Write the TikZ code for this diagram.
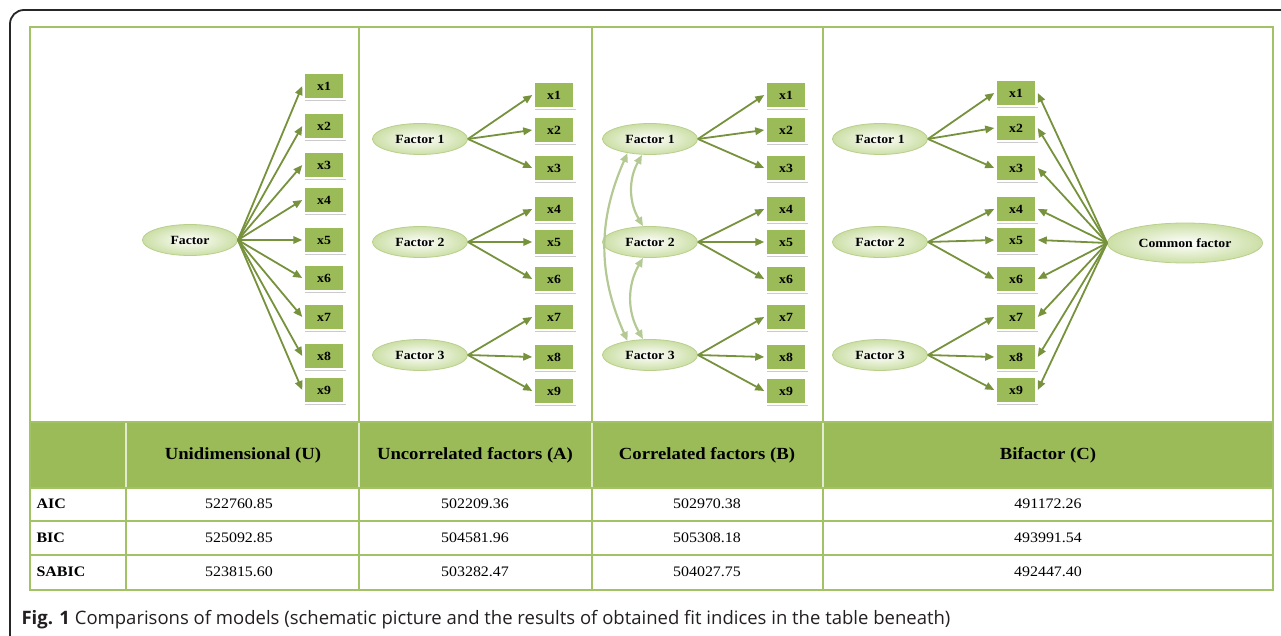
\documentclass[tikz,border=0pt]{standalone}
\usepackage{fontspec}
\setmainfont[FakeStretch=1.1]{Liberation Serif}
\newfontfamily\capfont{Open Sans}
\usetikzlibrary{arrows.meta,shapes.geometric,shadows}
\definecolor{boxgreen}{HTML}{9BBB59}
\definecolor{arrgreen}{HTML}{76923C}
\definecolor{corrgreen}{HTML}{B4C993}
\definecolor{ellgreen}{HTML}{CCDFA6}
\definecolor{ellborder}{HTML}{B9D08C}
\definecolor{linegreen}{HTML}{A3C266}
\definecolor{captext}{HTML}{231F20}
\tikzset{
 obs/.style={rectangle, fill=boxgreen, draw=white, line width=2.5pt, minimum width=41pt, minimum height=26pt, inner sep=0pt, font=\bfseries\fontsize{12.5}{12.5}\selectfont, drop shadow={shadow xshift=1.6pt, shadow yshift=-1.6pt, fill=black!45, opacity=0.45}},
 lat/.style={ellipse, minimum width=95pt, minimum height=31pt, inner sep=0pt, draw=ellborder, line width=0.8pt, inner color=white, outer color=ellgreen, font=\bfseries\fontsize{12.5}{12.5}\selectfont},
 load/.style={draw=arrgreen, line width=1.8pt, -{Triangle[length=9pt,width=7.5pt]}},
 corr/.style={draw=corrgreen, line width=2.2pt, {Triangle[length=9pt,width=7.5pt]}-{Triangle[length=9pt,width=7.5pt]}},
 gridline/.style={draw=linegreen, line width=1.6pt},
 headtxt/.style={font=\bfseries\fontsize{17}{17}\selectfont},
 celltxt/.style={font=\fontsize{14.5}{14.5}\selectfont},
 rowtxt/.style={font=\bfseries\fontsize{14.5}{14.5}\selectfont, anchor=west},
}
\begin{document}
\begin{tikzpicture}[x=1pt,y=-1pt]
\useasboundingbox (0,0) rectangle (1281,636);
\begin{scope}
\clip (0,0) rectangle (1281,636);
\draw[black!85, line width=1.8pt, rounded corners=14pt] (10,10) rectangle (1300,660);
\end{scope}
% table header fill
\fill[boxgreen] (30,422) rectangle (1273,488);
% grid
\draw[gridline] (30,27) rectangle (1273,590);
\foreach \yy in {422,488,521,555} \draw[gridline] (30,\yy) -- (1273,\yy);
\foreach \xx in {359,592,823} \draw[gridline] (\xx,27) -- (\xx,422) (\xx,488) -- (\xx,590);
\draw[gridline] (126,488) -- (126,590);
\foreach \xx in {126,359,592,823} \draw[draw=white!70!boxgreen, line width=1.2pt] (\xx,423) -- (\xx,487);
% header texts
\node[headtxt] (h1) at (243,455) {Unidimensional (U)};
\node[headtxt] (h2) at (475,455) {Uncorrelated factors (A)};
\node[headtxt] (h3) at (707,455) {Correlated factors (B)};
\node[headtxt] (h4) at (1048,455) {Bifactor (C)};
% rows
\node[rowtxt] (r1) at (33,504) {AIC};
\node[rowtxt] (r2) at (33,538) {BIC};
\node[rowtxt] (r3) at (33,572) {SABIC};
\node[celltxt] (v11) at (239,504) {522760.85};
\node[celltxt] (v12) at (475,504) {502209.36};
\node[celltxt] (v13) at (707,504) {502970.38};
\node[celltxt] (v14) at (1048,504) {491172.26};
\node[celltxt] (v21) at (239,538) {525092.85};
\node[celltxt] (v22) at (475,538) {504581.96};
\node[celltxt] (v23) at (707,538) {505308.18};
\node[celltxt] (v24) at (1048,538) {493991.54};
\node[celltxt] (v31) at (239,572) {523815.60};
\node[celltxt] (v32) at (475,572) {503282.47};
\node[celltxt] (v33) at (707,572) {504027.75};
\node[celltxt] (v34) at (1048,572) {492447.40};
% caption
\node[anchor=west, text=captext, font=\capfont\fontsize{18.5}{18.5}\selectfont] (cap) at (18,620) {\textbf{Fig. 1} Comparisons of models (schematic picture and the results of obtained fit indices in the table beneath)};

% ---- panel 1 ----
\foreach \y [count=\i] in {86,126,165,200,240,278,317,356,390} \node[obs] (a\i) at (324,\y) {x\i};
\node[lat] (fa) at (190,240) {Factor};
\foreach \i in {1,...,9} \draw[load] (fa.east) -- (a\i.west);

% ---- panel 2 ----
\foreach \y [count=\i] in {95,130,168,209,242,279,317,357,391} \node[obs] (b\i) at (554,\y) {x\i};
\node[lat] (fb1) at (420,139) {Factor 1};
\node[lat] (fb2) at (420,242) {Factor 2};
\node[lat] (fb3) at (420,355) {Factor 3};
\foreach \k/\i in {1/1,1/2,1/3,2/4,2/5,2/6,3/7,3/8,3/9} \draw[load] (fb\k.east) -- (b\i.west);

% ---- panel 3 ----
\foreach \y [count=\i] in {95,130,168,209,242,279,317,357,391} \node[obs] (c\i) at (786,\y) {x\i};
\node[lat] (fc1) at (650,139) {Factor 1};
\node[lat] (fc2) at (650,242) {Factor 2};
\node[lat] (fc3) at (650,355) {Factor 3};
\foreach \k/\i in {1/1,1/2,1/3,2/4,2/5,2/6,3/7,3/8,3/9} \draw[load] (fc\k.east) -- (c\i.west);
\draw[corr] ([xshift=-8pt]fc1.south) to[bend right=30] ([xshift=-7pt]fc2.north);
\draw[corr] ([xshift=-7pt]fc2.south) to[bend right=30] ([xshift=-7pt]fc3.north);
\draw[corr] (fc1.212) to[bend right=24] (fc3.148);

% ---- panel 4 ----
\foreach \y [count=\i] in {93,128,168,209,240,279,317,357,390} \node[obs] (d\i) at (1016,\y) {x\i};
\node[lat] (fd1) at (880,139) {Factor 1};
\node[lat] (fd2) at (880,242) {Factor 2};
\node[lat] (fd3) at (880,355) {Factor 3};
\node[lat, minimum width=155pt, minimum height=40pt] (cf) at (1185,243) {Common factor};
\foreach \k/\i in {1/1,1/2,1/3,2/4,2/5,2/6,3/7,3/8,3/9} \draw[load] (fd\k.east) -- (d\i.west);
\foreach \i in {1,...,9} \draw[load] (cf.west) -- (d\i.east);
\end{tikzpicture}
\end{document}
